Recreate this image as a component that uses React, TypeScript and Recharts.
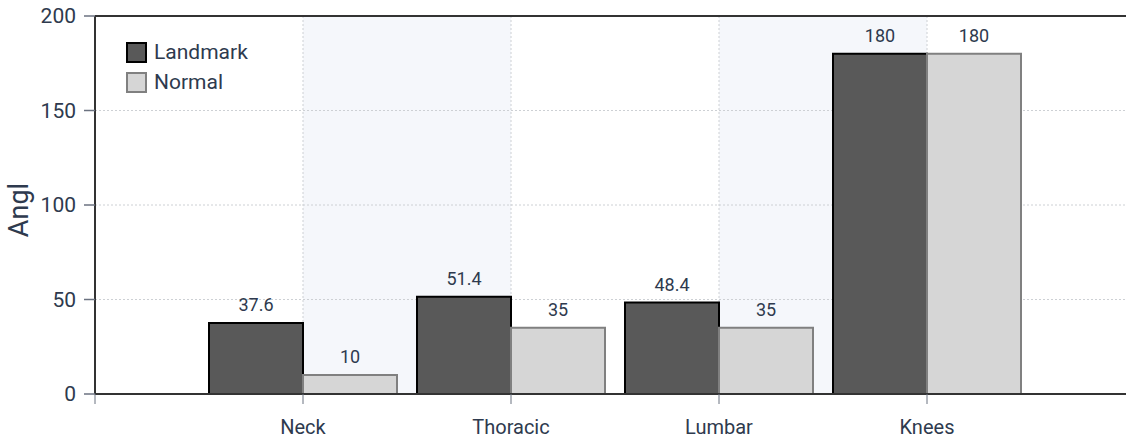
import { BarChart, Bar, XAxis, YAxis, CartesianGrid, LabelList, Legend, ReferenceLine, Label } from 'recharts'

const categories = ['Neck', 'Thoracic', 'Lumbar', 'Knees']
const landmark = [37.6, 51.4, 48.4, 180]
const normal = [10, 35, 35, 180]
const xTicks = [0, 1, 2, 3, 4]
const yTicks = [0, 50, 100, 150, 200]

const series = [
  { key: 'landmark', name: 'Landmark', fill: '#595959', stroke: '#000000' },
  { key: 'normal', name: 'Normal', fill: '#d6d6d6', stroke: '#808080' },
]

const data = categories.map((name, i) => ({
  name,
  pos: i + 1,
  landmark: landmark[i],
  normal: normal[i],
}))

const TEXT = '#2e3a4e'
const FONT = 'Roboto, sans-serif'

function LegendBox() {
  return (
    <div style={{ fontFamily: FONT, fontSize: 21, color: TEXT }}>
      {series.map((s) => (
        <div key={s.key} style={{ display: 'flex', alignItems: 'center', height: 30 }}>
          <span
            style={{
              display: 'inline-block',
              width: 17,
              height: 17,
              background: s.fill,
              border: `2px solid ${s.stroke}`,
              marginRight: 7,
            }}
          />
          {s.name}
        </div>
      ))}
    </div>
  )
}

export default function App() {
  return (
    <div style={{ width: 1126, height: 443, overflow: 'hidden', fontFamily: FONT }}>
      <style>{'body{margin:0}'}</style>
      <BarChart
        width={1135}
        height={443}
        data={data}
        margin={{ top: 16, right: 0, bottom: 0, left: 0 }}
        barSize={94}
        barGap={0}
      >
        <CartesianGrid
          stroke="#cdd0d4"
          strokeDasharray="2 2"
          verticalFill={['#ffffff', '#f5f7fb']}
          fillOpacity={1}
        />
        <XAxis
          dataKey="pos"
          type="number"
          domain={[0, 5]}
          ticks={xTicks}
          tickFormatter={(v) => categories[v - 1] ?? ''}
          height={49}
          tickSize={10}
          tickMargin={16}
          axisLine={{ stroke: '#333', strokeWidth: 2 }}
          tickLine={{ stroke: '#6b7280' }}
          tick={{ fill: TEXT, fontSize: 20 }}
        />
        <YAxis
          domain={[0, 200]}
          ticks={yTicks}
          width={95}
          tickSize={11}
          tickMargin={8}
          axisLine={{ stroke: '#333', strokeWidth: 2 }}
          tickLine={{ stroke: '#6b7280', strokeWidth: 1.5 }}
          tick={{ fill: TEXT, fontSize: 21 }}
        >
          <Label
            content={() => (
              <text
                x={28}
                y={210}
                transform="rotate(-90 28 210)"
                textAnchor="middle"
                fill={TEXT}
                fontSize={27}
                fontFamily={FONT}
              >
                Angl
              </text>
            )}
          />
        </YAxis>
        <ReferenceLine y={200} stroke="#333" strokeWidth={2} />
        <Legend
          layout="vertical"
          align="center"
          verticalAlign="middle"
          wrapperStyle={{ top: 37, left: 126, width: 'auto' }}
          content={() => <LegendBox />}
        />
        {series.map((s) => (
          <Bar
            key={s.key}
            dataKey={s.key}
            name={s.name}
            fill={s.fill}
            stroke={s.stroke}
            strokeWidth={2}
            isAnimationActive={false}
          >
            <LabelList dataKey={s.key} position="top" offset={12} fill={TEXT} fontSize={18} />
          </Bar>
        ))}
      </BarChart>
    </div>
  )
}
